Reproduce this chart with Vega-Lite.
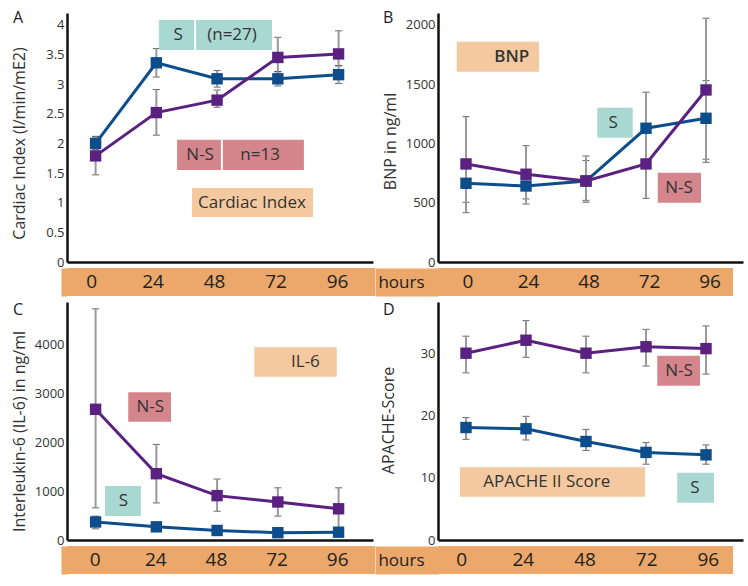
{
  "$schema": "https://vega.github.io/schema/vega-lite/v6.json",
  "padding": {"left": 10, "top": 10, "right": 5, "bottom": 5},
  "background": "white",
  "config": {
    "font": "Open Sans",
    "view": {"stroke": null},
    "axis": {"domainColor": "#111", "domainWidth": 2.5, "ticks": false, "grid": false, "labelFont": "Open Sans", "labelFontSize": 13, "labelColor": "#333", "labelOverlap": false, "titleFont": "Open Sans", "titleFontSize": 16, "titleFontWeight": "normal", "titleColor": "#333"},
    "axisY": {"labelOverlap": false},
    "axisQuantitative": {"labelOverlap": false},
    "title": {"font": "Open Sans", "fontSize": 16, "fontWeight": "normal", "color": "#222"},
    "text": {"font": "Open Sans", "fontSize": 17, "color": "#333"}
  },
  "datasets": {
    "hrs": [
      {"hour": 0, "label": "0"}, {"hour": 24, "label": "24"}, {"hour": 48, "label": "48"}, {"hour": 72, "label": "72"}, {"hour": 96, "label": "96"}
    ],
    "d": [
      {"panel": "A", "group": "S", "hour": 0, "value": 2.0, "lo": 1.9, "hi": 2.12},
      {"panel": "A", "group": "S", "hour": 24, "value": 3.36, "lo": 3.12, "hi": 3.6},
      {"panel": "A", "group": "S", "hour": 48, "value": 3.09, "lo": 2.95, "hi": 3.23},
      {"panel": "A", "group": "S", "hour": 72, "value": 3.09, "lo": 2.97, "hi": 3.21},
      {"panel": "A", "group": "S", "hour": 96, "value": 3.16, "lo": 3.01, "hi": 3.31},
      {"panel": "A", "group": "N-S", "hour": 0, "value": 1.79, "lo": 1.47, "hi": 2.11},
      {"panel": "A", "group": "N-S", "hour": 24, "value": 2.52, "lo": 2.14, "hi": 2.91},
      {"panel": "A", "group": "N-S", "hour": 48, "value": 2.73, "lo": 2.61, "hi": 2.9},
      {"panel": "A", "group": "N-S", "hour": 72, "value": 3.45, "lo": 3.21, "hi": 3.79},
      {"panel": "A", "group": "N-S", "hour": 96, "value": 3.51, "lo": 3.31, "hi": 3.9},
      {"panel": "B", "group": "S", "hour": 0, "value": 664, "lo": 504, "hi": 820},
      {"panel": "B", "group": "S", "hour": 24, "value": 641, "lo": 532, "hi": 750},
      {"panel": "B", "group": "S", "hour": 48, "value": 683, "lo": 520, "hi": 855},
      {"panel": "B", "group": "S", "hour": 72, "value": 1128, "lo": 1128, "hi": 1128},
      {"panel": "B", "group": "S", "hour": 96, "value": 1212, "lo": 867, "hi": 1530},
      {"panel": "B", "group": "N-S", "hour": 0, "value": 827, "lo": 416, "hi": 1226},
      {"panel": "B", "group": "N-S", "hour": 24, "value": 740, "lo": 489, "hi": 981},
      {"panel": "B", "group": "N-S", "hour": 48, "value": 683, "lo": 504, "hi": 894},
      {"panel": "B", "group": "N-S", "hour": 72, "value": 827, "lo": 537, "hi": 1432},
      {"panel": "B", "group": "N-S", "hour": 96, "value": 1451, "lo": 841, "hi": 2056},
      {"panel": "C", "group": "S", "hour": 0, "value": 370, "lo": 230, "hi": 490},
      {"panel": "C", "group": "S", "hour": 24, "value": 270, "lo": 210, "hi": 330},
      {"panel": "C", "group": "S", "hour": 48, "value": 195, "lo": 150, "hi": 240},
      {"panel": "C", "group": "S", "hour": 72, "value": 150, "lo": 110, "hi": 190},
      {"panel": "C", "group": "S", "hour": 96, "value": 160, "lo": 120, "hi": 200},
      {"panel": "C", "group": "N-S", "hour": 0, "value": 2680, "lo": 660, "hi": 4740},
      {"panel": "C", "group": "N-S", "hour": 24, "value": 1360, "lo": 760, "hi": 1960},
      {"panel": "C", "group": "N-S", "hour": 48, "value": 910, "lo": 590, "hi": 1250},
      {"panel": "C", "group": "N-S", "hour": 72, "value": 780, "lo": 490, "hi": 1070},
      {"panel": "C", "group": "N-S", "hour": 96, "value": 640, "lo": 180, "hi": 1070},
      {"panel": "D", "group": "S", "hour": 0, "value": 18.1, "lo": 16.2, "hi": 19.7},
      {"panel": "D", "group": "S", "hour": 24, "value": 17.9, "lo": 16.1, "hi": 19.9},
      {"panel": "D", "group": "S", "hour": 48, "value": 15.85, "lo": 14.4, "hi": 17.8},
      {"panel": "D", "group": "S", "hour": 72, "value": 14.1, "lo": 12.2, "hi": 15.7},
      {"panel": "D", "group": "S", "hour": 96, "value": 13.7, "lo": 12.2, "hi": 15.3},
      {"panel": "D", "group": "N-S", "hour": 0, "value": 30.06, "lo": 26.9, "hi": 32.8},
      {"panel": "D", "group": "N-S", "hour": 24, "value": 32.15, "lo": 29.4, "hi": 35.3},
      {"panel": "D", "group": "N-S", "hour": 48, "value": 30.06, "lo": 26.9, "hi": 32.8},
      {"panel": "D", "group": "N-S", "hour": 72, "value": 31.1, "lo": 28.0, "hi": 33.9},
      {"panel": "D", "group": "N-S", "hour": 96, "value": 30.8, "lo": 26.7, "hi": 34.45}
    ]
  },
  "columns": 2,
  "bounds": "flush",
  "align": "each",
  "spacing": {"row": 6, "column": 63},
  "concat": [
    {
      "width": 306, "height": 249,
      "title": {"text": "A", "anchor": "start", "frame": "group", "dx": -54, "dy": 13, "offset": 0},
      "layer": [
        {
          "data": {"name": "d"},
          "transform": [{"filter": "datum.panel == 'A'"}],
          "encoding": {
            "x": {"field": "hour", "type": "quantitative", "scale": {"domain": [-11.3, 109.6], "nice": false, "zero": false}, "axis": {"labels": false, "title": null}},
            "y": {"field": "value", "type": "quantitative", "title": "Cardiac Index (l/min/mE2)", "scale": {"domain": [0, 4.2], "nice": false}, "axis": {"values": [0, 0.5, 1, 1.5, 2, 2.5, 3, 3.5, 4], "tickCount": 9, "labelOverlap": false, "labelExpr": "'' + datum.value", "labelPadding": 3, "titleX": -48, "titleY": 130, "titleAngle": -90, "titleAlign": "center", "titleBaseline": "middle"}}
          },
          "layer": [
            {"mark": {"type": "errorbar", "ticks": {"color": "#222", "size": 7}, "rule": {"color": "#999", "strokeWidth": 2}}, "encoding": {"y": {"field": "lo", "type": "quantitative", "title": "Cardiac Index (l/min/mE2)", "axis": {"values": [0, 0.5, 1, 1.5, 2, 2.5, 3, 3.5, 4], "tickCount": 9, "labelOverlap": false, "labelExpr": "'' + datum.value", "labelPadding": 3, "titleX": -48, "titleY": 130, "titleAngle": -90, "titleAlign": "center", "titleBaseline": "middle"}}, "y2": {"field": "hi"}}},
            {"mark": {"type": "line", "strokeWidth": 3}, "encoding": {"color": {"field": "group", "type": "nominal", "scale": {"domain": ["S", "N-S"], "range": ["#0E4D8B", "#5A2180"]}, "legend": null}}},
            {"mark": {"type": "square", "size": 130, "opacity": 1}, "encoding": {"color": {"field": "group", "type": "nominal", "scale": {"domain": ["S", "N-S"], "range": ["#0E4D8B", "#5A2180"]}, "legend": null}}}
          ]
        },
        {"data": {"values": [{}]}, "mark": {"type": "rect", "color": "#A9D8D2"}, "encoding": {"x": {"datum": 25.0}, "x2": {"datum": 69.7}, "y": {"datum": 3.575}, "y2": {"datum": 4.08}}},
        {"data": {"values": [{}]}, "mark": {"type": "rule", "color": "white", "strokeWidth": 2}, "encoding": {"x": {"datum": 39.3}, "y": {"datum": 3.575}, "y2": {"datum": 4.08}}},
        {"data": {"values": [{}]}, "mark": {"type": "text", "text": "S"}, "encoding": {"x": {"datum": 32.6}, "y": {"datum": 3.83}}},
        {"data": {"values": [{}]}, "mark": {"type": "text", "text": "(n=27)"}, "encoding": {"x": {"datum": 53.9}, "y": {"datum": 3.83}}},
        {"data": {"values": [{}]}, "mark": {"type": "rect", "color": "#D4868C"}, "encoding": {"x": {"datum": 32.2}, "x2": {"datum": 82.3}, "y": {"datum": 1.55}, "y2": {"datum": 2.06}}},
        {"data": {"values": [{}]}, "mark": {"type": "rule", "color": "white", "strokeWidth": 2}, "encoding": {"x": {"datum": 49.9}, "y": {"datum": 1.55}, "y2": {"datum": 2.06}}},
        {"data": {"values": [{}]}, "mark": {"type": "text", "text": "N-S"}, "encoding": {"x": {"datum": 41.3}, "y": {"datum": 1.8}}},
        {"data": {"values": [{}]}, "mark": {"type": "text", "text": "n=13"}, "encoding": {"x": {"datum": 65.0}, "y": {"datum": 1.8}}},
        {"data": {"values": [{}]}, "mark": {"type": "rect", "color": "#F5C99F"}, "encoding": {"x": {"datum": 38.1}, "x2": {"datum": 85.9}, "y": {"datum": 0.76}, "y2": {"datum": 1.25}}},
        {"data": {"values": [{}]}, "mark": {"type": "text", "text": "Cardiac Index"}, "encoding": {"x": {"datum": 61.8}, "y": {"datum": 1.0}}}
      ]
    },
    {
      "width": 305, "height": 249,
      "title": {"text": "B", "anchor": "start", "frame": "group", "dx": -55, "dy": 13, "offset": 0},
      "layer": [
        {"data": {"values": [{}]}, "mark": {"type": "rect", "color": "#F5C99F"}, "encoding": {"x": {"datum": -3.7}, "x2": {"datum": 29.2}, "y": {"datum": 1605}, "y2": {"datum": 1858}}},
        {"data": {"values": [{}]}, "mark": {"type": "text", "text": "BNP", "fontWeight": 600}, "encoding": {"x": {"datum": 18.3}, "y": {"datum": 1733}}},
        {"data": {"values": [{}]}, "mark": {"type": "rect", "color": "#A9D8D2"}, "encoding": {"x": {"datum": 52.5}, "x2": {"datum": 66.7}, "y": {"datum": 1048}, "y2": {"datum": 1301}}},
        {"data": {"values": [{}]}, "mark": {"type": "text", "text": "S"}, "encoding": {"x": {"datum": 58.9}, "y": {"datum": 1175}}},
        {"data": {"values": [{}]}, "mark": {"type": "rect", "color": "#D4868C"}, "encoding": {"x": {"datum": 76.7}, "x2": {"datum": 94.0}, "y": {"datum": 500}, "y2": {"datum": 753}}},
        {"data": {"values": [{}]}, "mark": {"type": "text", "text": "N-S"}, "encoding": {"x": {"datum": 85.2}, "y": {"datum": 627}}},
        {
          "data": {"name": "d"},
          "transform": [{"filter": "datum.panel == 'B'"}],
          "encoding": {
            "x": {"field": "hour", "type": "quantitative", "scale": {"domain": [-11.2, 110.8], "nice": false, "zero": false}, "axis": {"labels": false, "title": null}},
            "y": {"field": "value", "type": "quantitative", "title": "BNP in ng/ml", "scale": {"domain": [0, 2100], "nice": false}, "axis": {"values": [0, 500, 1000, 1500, 2000], "labelExpr": "'' + datum.value", "labelPadding": 3, "titleX": -48, "titleY": 128, "titleAngle": -90, "titleAlign": "center", "titleBaseline": "middle"}}
          },
          "layer": [
            {"mark": {"type": "errorbar", "ticks": {"color": "#222", "size": 7}, "rule": {"color": "#999", "strokeWidth": 2}}, "encoding": {"y": {"field": "lo", "type": "quantitative", "title": "BNP in ng/ml", "axis": {"values": [0, 500, 1000, 1500, 2000], "labelExpr": "'' + datum.value", "labelPadding": 3, "titleX": -48, "titleY": 128, "titleAngle": -90, "titleAlign": "center", "titleBaseline": "middle"}}, "y2": {"field": "hi"}}},
            {"mark": {"type": "line", "strokeWidth": 3}, "encoding": {"color": {"field": "group", "type": "nominal", "scale": {"domain": ["S", "N-S"], "range": ["#0E4D8B", "#5A2180"]}, "legend": null}}},
            {"mark": {"type": "square", "size": 130, "opacity": 1}, "encoding": {"color": {"field": "group", "type": "nominal", "scale": {"domain": ["S", "N-S"], "range": ["#0E4D8B", "#5A2180"]}, "legend": null}}}
          ]
        }
      ]
    },
    {
      "width": 308, "height": 28,
      "view": {"fill": "#EBA86A", "stroke": null},
      "data": {"name": "hrs"},
      "mark": {"type": "text", "fontSize": 19, "color": "#222"},
      "encoding": {
        "x": {"field": "hour", "type": "quantitative", "scale": {"domain": [-9.6, 110.6], "nice": false, "zero": false}, "axis": null},
        "y": {"datum": 0, "type": "quantitative", "scale": {"domain": [-1, 1]}, "axis": {"values": [0], "ticks": true, "tickSize": 6, "tickWidth": 28, "tickColor": "#EBA86A", "labels": false, "domain": false, "title": null}},
        "text": {"field": "label"}
      }
    },
    {
      "width": 295, "height": 28,
      "view": {"fill": "#EBA86A", "stroke": null},
      "data": {"name": "hrs"},
      "mark": {"type": "text", "fontSize": 19, "color": "#222"},
      "encoding": {
        "x": {"field": "hour", "type": "quantitative", "scale": {"domain": [-11.9, 105.1], "nice": false, "zero": false}, "axis": null},
        "y": {"datum": 0, "type": "quantitative", "scale": {"domain": [-1, 1]}, "axis": {"values": [0], "ticks": true, "tickSize": 63, "tickWidth": 28, "tickColor": "#EBA86A", "labels": false, "domain": false, "title": "hours", "titleX": -37, "titleY": 14, "titleAngle": 0, "titleAlign": "center", "titleBaseline": "middle", "titleFontSize": 17, "titleColor": "#222"}},
        "text": {"field": "label"}
      }
    },
    {
      "width": 306, "height": 238,
      "title": {"text": "C", "anchor": "start", "frame": "group", "dx": -54, "dy": 16, "offset": 0},
      "layer": [
        {"data": {"values": [{}]}, "mark": {"type": "rect", "color": "#F5C99F"}, "encoding": {"x": {"datum": 62.7}, "x2": {"datum": 95.3}, "y": {"datum": 3348}, "y2": {"datum": 3950}}},
        {"data": {"values": [{}]}, "mark": {"type": "text", "text": "IL-6"}, "encoding": {"x": {"datum": 82.9}, "y": {"datum": 3649}}},
        {"data": {"values": [{}]}, "mark": {"type": "rect", "color": "#D4868C"}, "encoding": {"x": {"datum": 12.9}, "x2": {"datum": 29.8}, "y": {"datum": 2425}, "y2": {"datum": 3028}}},
        {"data": {"values": [{}]}, "mark": {"type": "text", "text": "N-S"}, "encoding": {"x": {"datum": 21.6}, "y": {"datum": 2726}}},
        {"data": {"values": [{}]}, "mark": {"type": "rect", "color": "#A9D8D2"}, "encoding": {"x": {"datum": 3.7}, "x2": {"datum": 17.9}, "y": {"datum": 492}, "y2": {"datum": 1107}}},
        {"data": {"values": [{}]}, "mark": {"type": "text", "text": "S"}, "encoding": {"x": {"datum": 11.0}, "y": {"datum": 800}}},
        {
          "data": {"name": "d"},
          "transform": [{"filter": "datum.panel == 'C'"}],
          "encoding": {
            "x": {"field": "hour", "type": "quantitative", "scale": {"domain": [-11.3, 109.6], "nice": false, "zero": false}, "axis": {"labels": false, "title": null}},
            "y": {"field": "value", "type": "quantitative", "title": "Interleukin-6 (IL-6) in ng/ml", "scale": {"domain": [0, 4880], "nice": false}, "axis": {"values": [0, 1000, 2000, 3000, 4000], "labelExpr": "'' + datum.value", "labelPadding": 3, "titleX": -48, "titleY": 129, "titleAngle": -90, "titleAlign": "center", "titleBaseline": "middle"}}
          },
          "layer": [
            {"mark": {"type": "errorbar", "ticks": {"color": "#222", "size": 7}, "rule": {"color": "#999", "strokeWidth": 2}}, "encoding": {"y": {"field": "lo", "type": "quantitative", "title": "Interleukin-6 (IL-6) in ng/ml", "axis": {"values": [0, 1000, 2000, 3000, 4000], "labelExpr": "'' + datum.value", "labelPadding": 3, "titleX": -48, "titleY": 129, "titleAngle": -90, "titleAlign": "center", "titleBaseline": "middle"}}, "y2": {"field": "hi"}}},
            {"mark": {"type": "line", "strokeWidth": 3}, "encoding": {"color": {"field": "group", "type": "nominal", "scale": {"domain": ["S", "N-S"], "range": ["#0E4D8B", "#5A2180"]}, "legend": null}}},
            {"mark": {"type": "square", "size": 130, "opacity": 1}, "encoding": {"color": {"field": "group", "type": "nominal", "scale": {"domain": ["S", "N-S"], "range": ["#0E4D8B", "#5A2180"]}, "legend": null}}}
          ]
        }
      ]
    },
    {
      "width": 305, "height": 238,
      "title": {"text": "D", "anchor": "start", "frame": "group", "dx": -55, "dy": 16, "offset": 0},
      "layer": [
        {"data": {"values": [{}]}, "mark": {"type": "rect", "color": "#D4868C"}, "encoding": {"x": {"datum": 76.5}, "x2": {"datum": 93.6}, "y": {"datum": 24.83}, "y2": {"datum": 29.66}}},
        {"data": {"values": [{}]}, "mark": {"type": "text", "text": "N-S"}, "encoding": {"x": {"datum": 85.2}, "y": {"datum": 27.2}}},
        {"data": {"values": [{}]}, "mark": {"type": "rect", "color": "#F5C99F"}, "encoding": {"x": {"datum": -2.4}, "x2": {"datum": 71.6}, "y": {"datum": 6.97}, "y2": {"datum": 11.7}}},
        {"data": {"values": [{}]}, "mark": {"type": "text", "text": "APACHE II Score"}, "encoding": {"x": {"datum": 32.3}, "y": {"datum": 9.33}}},
        {"data": {"values": [{}]}, "mark": {"type": "rect", "color": "#A9D8D2"}, "encoding": {"x": {"datum": 84.5}, "x2": {"datum": 99.2}, "y": {"datum": 6.0}, "y2": {"datum": 10.83}}},
        {"data": {"values": [{}]}, "mark": {"type": "text", "text": "S"}, "encoding": {"x": {"datum": 91.6}, "y": {"datum": 8.4}}},
        {
          "data": {"name": "d"},
          "transform": [{"filter": "datum.panel == 'D'"}],
          "encoding": {
            "x": {"field": "hour", "type": "quantitative", "scale": {"domain": [-11.2, 110.8], "nice": false, "zero": false}, "axis": {"labels": false, "title": null}},
            "y": {"field": "value", "type": "quantitative", "title": "APACHE-Score", "scale": {"domain": [0, 38.3], "nice": false}, "axis": {"values": [0, 10, 20, 30], "labelExpr": "'' + datum.value", "labelPadding": 3, "titleX": -50, "titleY": 118, "titleAngle": -90, "titleAlign": "center", "titleBaseline": "middle"}}
          },
          "layer": [
            {"mark": {"type": "errorbar", "ticks": {"color": "#222", "size": 7}, "rule": {"color": "#999", "strokeWidth": 2}}, "encoding": {"y": {"field": "lo", "type": "quantitative", "title": "APACHE-Score", "axis": {"values": [0, 10, 20, 30], "labelExpr": "'' + datum.value", "labelPadding": 3, "titleX": -50, "titleY": 118, "titleAngle": -90, "titleAlign": "center", "titleBaseline": "middle"}}, "y2": {"field": "hi"}}},
            {"mark": {"type": "line", "strokeWidth": 3}, "encoding": {"color": {"field": "group", "type": "nominal", "scale": {"domain": ["S", "N-S"], "range": ["#0E4D8B", "#5A2180"]}, "legend": null}}},
            {"mark": {"type": "square", "size": 130, "opacity": 1}, "encoding": {"color": {"field": "group", "type": "nominal", "scale": {"domain": ["S", "N-S"], "range": ["#0E4D8B", "#5A2180"]}, "legend": null}}}
          ]
        }
      ]
    },
    {
      "width": 308, "height": 28,
      "view": {"fill": "#EBA86A", "stroke": null},
      "data": {"name": "hrs"},
      "mark": {"type": "text", "fontSize": 19, "color": "#222"},
      "encoding": {
        "x": {"field": "hour", "type": "quantitative", "scale": {"domain": [-11.2, 110.8], "nice": false, "zero": false}, "axis": null},
        "y": {"datum": 0, "type": "quantitative", "scale": {"domain": [-1, 1]}, "axis": {"values": [0], "ticks": true, "tickSize": 6, "tickWidth": 28, "tickColor": "#EBA86A", "labels": false, "domain": false, "title": null}},
        "text": {"field": "label"}
      }
    },
    {
      "width": 295, "height": 28,
      "view": {"fill": "#EBA86A", "stroke": null},
      "data": {"name": "hrs"},
      "mark": {"type": "text", "fontSize": 19, "color": "#222"},
      "encoding": {
        "x": {"field": "hour", "type": "quantitative", "scale": {"domain": [-9.2, 105.6], "nice": false, "zero": false}, "axis": null},
        "y": {"datum": 0, "type": "quantitative", "scale": {"domain": [-1, 1]}, "axis": {"values": [0], "ticks": true, "tickSize": 63, "tickWidth": 28, "tickColor": "#EBA86A", "labels": false, "domain": false, "title": "hours", "titleX": -37, "titleY": 14, "titleAngle": 0, "titleAlign": "center", "titleBaseline": "middle", "titleFontSize": 17, "titleColor": "#222"}},
        "text": {"field": "label"}
      }
    }
  ]
}
